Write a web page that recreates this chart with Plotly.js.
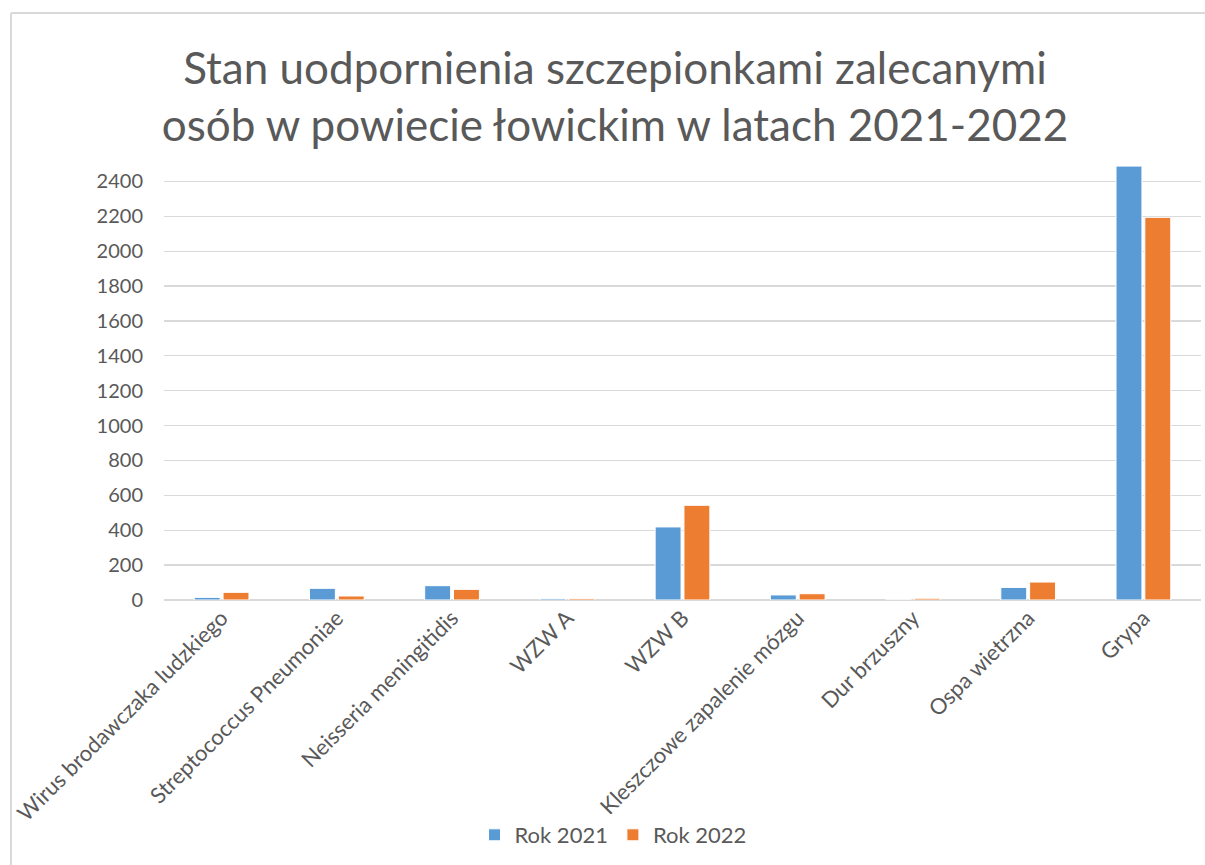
<!DOCTYPE html>
<html>
<head>
<meta charset="utf-8">
<script src="https://cdn.plot.ly/plotly-3.0.1.min.js"></script>
<style>html,body{margin:0;padding:0;background:#fff;}#chart{width:1205px;height:865px;}</style>
</head>
<body>
<div id="chart"></div>
<script>
const categories = ["Wirus brodawczaka ludzkiego", "Streptococcus Pneumoniae", "Neisseria meningitidis", "WZW A", "WZW B", "Kleszczowe zapalenie mózgu", "Dur brzuszny", "Ospa wietrzna", "Grypa"];
const rok2021 = [15, 67, 82, 8, 419, 29, 0, 72, 2488];
const rok2022 = [44, 23, 61, 9, 543, 36, 10, 103, 2194];
const seriesNames = ["Rok 2021", "Rok 2022"];
const titleText = "Stan uodpornienia szczepionkami zalecanymi<br>osób w powiecie łowickim w latach 2021-2022";
const yTicks = [0, 200, 400, 600, 800, 1000, 1200, 1400, 1600, 1800, 2000, 2200, 2400];

const FONT = "Lato, Carlito, Calibri, sans-serif";
const TXT = "#595959";

const traces = [
  {type: "bar", name: seriesNames[0], x: categories, y: rok2021,
   marker: {color: "#5B9BD5", line: {color: "#ffffff", width: 1}}},
  {type: "bar", name: seriesNames[1], x: categories, y: rok2022,
   marker: {color: "#ED7D31", line: {color: "#ffffff", width: 1}}}
];

const layout = {
  width: 1205, height: 865,
  margin: {l: 164, r: 4, t: 164, b: 265, pad: 0},
  paper_bgcolor: "#ffffff", plot_bgcolor: "#ffffff",
  font: {family: FONT, color: TXT, size: 20},
  title: {text: titleText, font: {family: FONT, size: 44, color: TXT},
          x: 615/1205, xanchor: "center", xref: "container",
          y: 1 - 84/865, yanchor: "top", yref: "container"},
  barmode: "group", bargap: 0.5, bargroupgap: 0.1,
  showlegend: true,
  legend: {orientation: "h", x: 0.433, xanchor: "center", y: -0.539, yanchor: "middle",
           font: {family: FONT, size: 22, color: TXT}, itemwidth: 30, traceorder: "normal"},
  xaxis: {type: "category", tickangle: -45, tickfont: {family: FONT, size: 22, color: TXT},
          showgrid: false, showline: false, zeroline: false, ticks: "", automargin: false},
  yaxis: {range: [0, 2500], tickvals: yTicks, ticktext: yTicks.map(String),
          tickfont: {family: FONT, size: 20, color: TXT},
          showgrid: true, gridcolor: "#d9d9d9", gridwidth: 1.3,
          zeroline: true, zerolinecolor: "#d9d9d9", zerolinewidth: 1.3,
          showline: false, ticks: "", ticklabelstandoff: 20, automargin: false},
  shapes: [
    {type: "line", xref: "paper", yref: "paper", x0: (11-164)/1037, x1: 1.05, y0: (600-13)/436, y1: (600-13)/436,
     line: {color: "#d9d9d9", width: 2}},
    {type: "line", xref: "paper", yref: "paper", x0: (11-164)/1037, x1: (11-164)/1037, y0: (600-13)/436, y1: -0.7,
     line: {color: "#d9d9d9", width: 2}}
  ]
};

Plotly.newPlot("chart", traces, layout, {staticPlot: true, displayModeBar: false});
</script>
</body>
</html>
